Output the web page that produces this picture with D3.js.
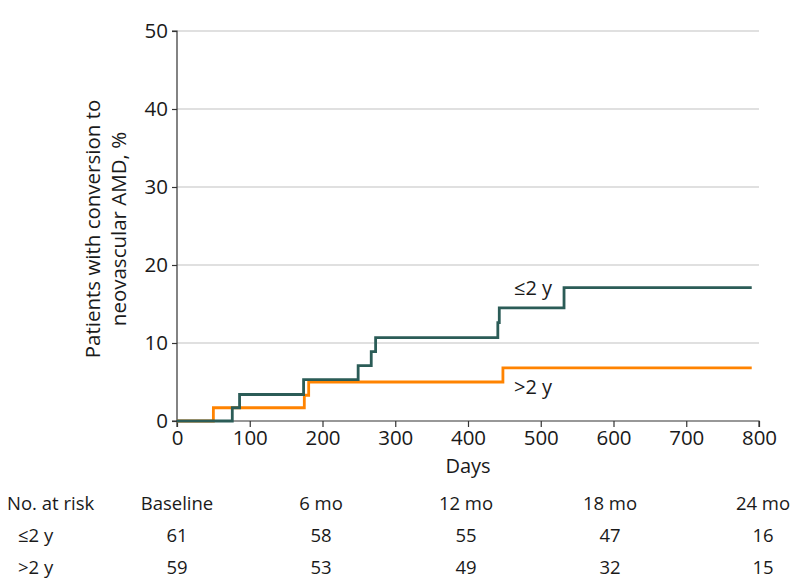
<!DOCTYPE html>
<html><head><meta charset="utf-8">
<script src="https://cdn.jsdelivr.net/npm/d3@7"></script>
<style>
body{margin:0;background:#fff;}
text{font-family:"Open Sans","Noto Sans",sans-serif;fill:#1a1a1a;}
</style></head>
<body><svg id="c" width="794" height="588"></svg>
<script>
// Step data: [day, cumulative %]
const groupLe2Days = [0, 76, 86, 174, 249, 267, 273, 441, 443, 532, 790];
const groupLe2Vals = [0, 1.7, 3.4, 5.3, 7.1, 8.9, 10.7, 12.6, 14.5, 17.1, 17.1];
const groupGt2Days = [0, 50, 175, 181, 448, 790];
const groupGt2Vals = [0, 1.7, 3.3, 5.0, 6.8, 6.8];
const xTicks = [0, 100, 200, 300, 400, 500, 600, 700, 800];
const yTicks = [0, 10, 20, 30, 40, 50];
const riskTimes = ["Baseline", "6 mo", "12 mo", "18 mo", "24 mo"];
const riskLe2 = [61, 58, 55, 47, 16];
const riskGt2 = [59, 53, 49, 32, 15];

const svg = d3.select("#c");
const x = d3.scaleLinear().domain([0, 800]).range([177, 759]);
const y = d3.scaleLinear().domain([0, 50]).range([421, 31]);

// gridlines
svg.append("g").selectAll("line").data(yTicks.filter(d => d > 0)).join("line")
  .attr("x1", x(0)).attr("x2", x(800))
  .attr("y1", d => y(d)).attr("y2", d => y(d))
  .attr("stroke", "#d6d6d6").attr("stroke-width", 1.5);

// axes
const yAxis = svg.append("g").attr("transform", `translate(${x(0)},0)`)
  .call(d3.axisLeft(y).tickValues(yTicks).tickSize(5).tickPadding(4));
const xAxis = svg.append("g").attr("transform", `translate(0,${y(0)})`)
  .call(d3.axisBottom(x).tickValues(xTicks).tickSize(6).tickPadding(3));
[yAxis, xAxis].forEach(a => {
  a.selectAll("path,line").attr("stroke", "#333").attr("stroke-width", 1.2);
  a.selectAll("text").attr("font-size", 20.5).attr("fill", "#1a1a1a")
    .style("font-family", '"Open Sans","Noto Sans",sans-serif');
});
xAxis.select(".domain").attr("d", `M${x(0)},6V0H${x(800)}V6`);
yAxis.select(".domain").attr("d", `M-5,${y(50)}H0V${y(0)}H-5`);

// step lines
const line = d3.line().x(d => x(d[0])).y(d => y(d[1])).curve(d3.curveStepAfter);
const gtData = groupGt2Days.map((d, i) => [d, groupGt2Vals[i]]);
const leData = groupLe2Days.map((d, i) => [d, groupLe2Vals[i]]);
svg.append("path").datum(gtData).attr("d", line).attr("fill", "none")
  .attr("stroke", "#ff8300").attr("stroke-width", 2.8);
svg.append("path").datum(leData).attr("d", line).attr("fill", "none")
  .attr("stroke", "#2b5c57").attr("stroke-width", 2.8);

// series labels
svg.append("text").attr("x", 514).attr("y", 295).attr("font-size", 20).text("≤2 y");
svg.append("text").attr("x", 514).attr("y", 394).attr("font-size", 20).text(">2 y");

// axis titles
svg.append("text").attr("x", x(400)).attr("y", 473).attr("text-anchor", "middle")
  .attr("font-size", 20).text("Days");
const yt = svg.append("text").attr("transform", "rotate(-90)")
  .attr("text-anchor", "middle").attr("font-size", 20.5);
yt.append("tspan").attr("x", -229).attr("y", 100).text("Patients with conversion to");
yt.append("tspan").attr("x", -229).attr("y", 126).text("neovascular AMD, %");

// risk table
const colX = [177, 321, 466, 610, 763];
const tbl = svg.append("g").attr("class", "tbl");
const rowY = [510, 542, 574];
const fs = 18.5;
tbl.append("text").attr("x", 7).attr("y", rowY[0]).attr("font-size", fs).text("No. at risk");
tbl.append("text").attr("x", 18).attr("y", rowY[1]).attr("font-size", fs).text("≤2 y");
tbl.append("text").attr("x", 18).attr("y", rowY[2]).attr("font-size", fs).text(">2 y");
riskTimes.forEach((t, i) => {
  tbl.append("text").attr("x", colX[i]).attr("y", rowY[0]).attr("font-size", fs)
    .attr("text-anchor", "middle").text(t);
  tbl.append("text").attr("x", colX[i]).attr("y", rowY[1]).attr("font-size", fs)
    .attr("text-anchor", "middle").text(riskLe2[i]);
  tbl.append("text").attr("x", colX[i]).attr("y", rowY[2]).attr("font-size", fs)
    .attr("text-anchor", "middle").text(riskGt2[i]);
});
</script></body></html>
